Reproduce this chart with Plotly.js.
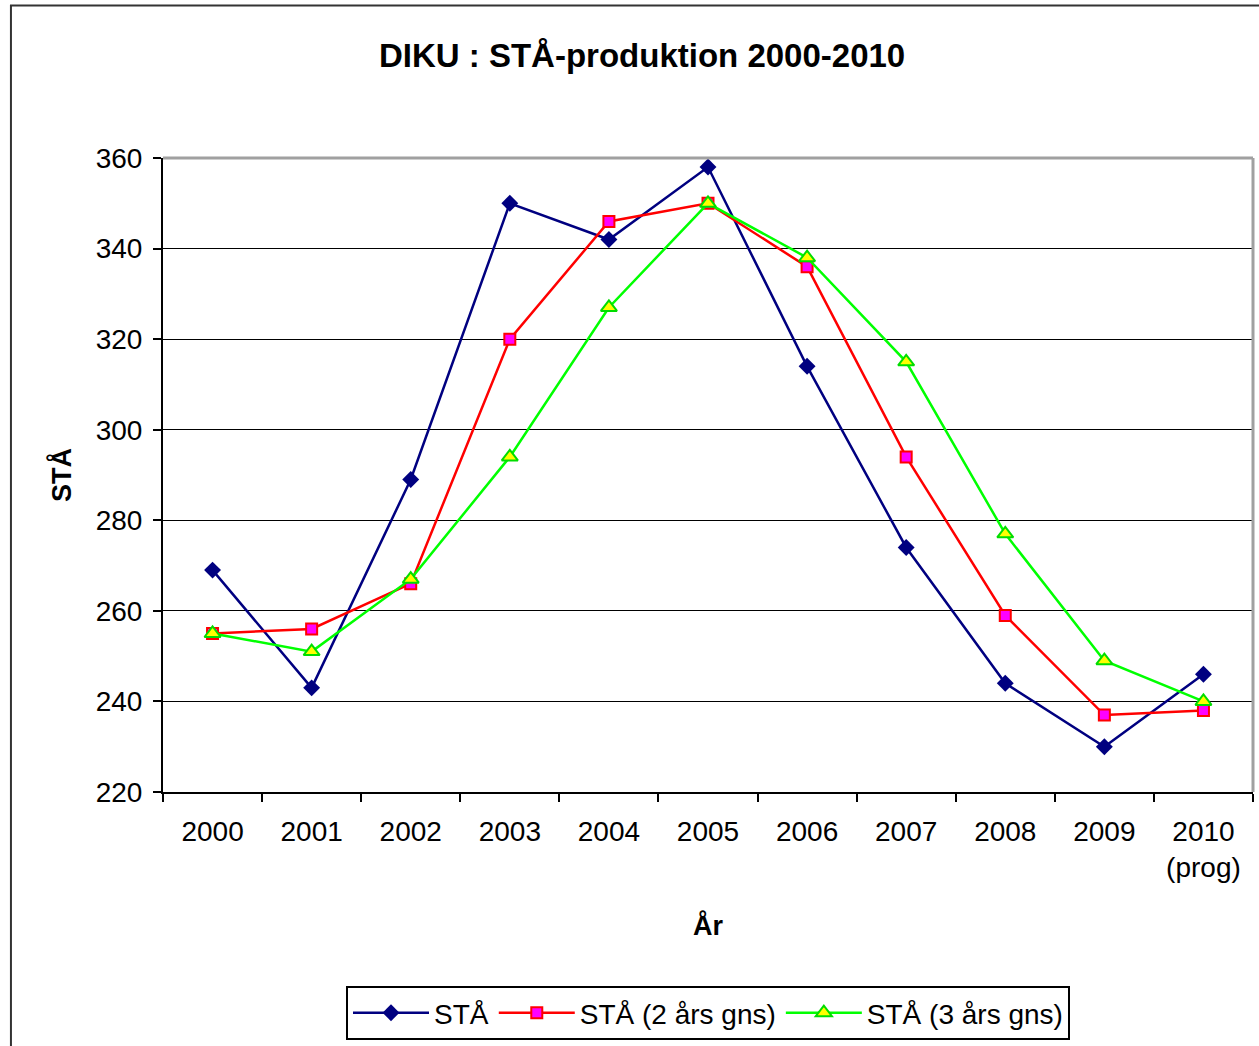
<!DOCTYPE html>
<html>
<head>
<meta charset="utf-8">
<script src="https://cdn.plot.ly/plotly-3.0.1.min.js"></script>
<style>html,body{margin:0;padding:0;background:#fff;}#chart{width:1259px;height:1046px;}</style>
</head>
<body>
<div id="chart"></div>
<script>
var years = ["2000","2001","2002","2003","2004","2005","2006","2007","2008","2009","2010<br>(prog)"];
var sta = [269, 243, 289, 350, 342, 358, 314, 274, 244, 230, 246];
var sta2 = [255, 256, 266, 320, 346, 350, 336, 294, 259, 237, 238];
var sta3 = [255, 251, 267, 294, 327, 350, 338, 315, 277, 249, 240];
var seriesNames = ["STÅ", "STÅ (2 års gns)", "STÅ (3 års gns)"];
var yTicks = [220, 240, 260, 280, 300, 320, 340, 360];

var FONT = "Liberation Sans, Arial, sans-serif";

var traces = [
  {x: years, y: sta, name: seriesNames[0], type: "scatter", mode: "lines+markers",
   line: {color: "#000080", width: 2.5},
   marker: {symbol: "diamond", size: 13, color: "#000080", line: {color: "#000080", width: 0}}},
  {x: years, y: sta2, name: seriesNames[1], type: "scatter", mode: "lines+markers",
   line: {color: "#FF0000", width: 2.5},
   marker: {symbol: "square", size: 11, color: "#FF00FF", line: {color: "#FF0000", width: 2}}},
  {x: years, y: sta3, name: seriesNames[2], type: "scatter", mode: "lines+markers",
   line: {color: "#00FF00", width: 2.5},
   marker: {symbol: "triangle-up", size: 14, color: "#FFFF00", line: {color: "#00DD00", width: 2}}}
];

var layout = {
  width: 1259, height: 1046,
  margin: {l: 163, r: 6, t: 158, b: 254},
  paper_bgcolor: "#ffffff", plot_bgcolor: "#ffffff",
  font: {family: FONT, color: "#000", size: 28},
  title: {text: "<b>DIKU : STÅ-produktion 2000-2010</b>", font: {family: FONT, size: 33, color: "#000"},
          x: 0.51, xanchor: "center", y: 0.947, yanchor: "middle"},
  xaxis: {
    type: "category", tickson: "boundaries", ticks: "outside", ticklen: 8, tickcolor: "#000", tickwidth: 2,
    showline: true, linecolor: "#000", linewidth: 2, showgrid: false,
    tickfont: {family: FONT, size: 28, color: "#000"}, ticklabelstandoff: 13,
    title: {text: "<b>År</b>", font: {family: FONT, size: 27, color: "#000"}, standoff: 34},
    range: [-0.5, 10.5], fixedrange: true
  },
  yaxis: {
    range: [220, 360], tickvals: yTicks, ticks: "outside", ticklen: 8, tickcolor: "#000", tickwidth: 2,
    showline: true, linecolor: "#000", linewidth: 2, showgrid: true, gridcolor: "#000", gridwidth: 1,
    zeroline: false,
    tickfont: {family: FONT, size: 28, color: "#000"}, ticklabelstandoff: 5,
    title: {text: "<b>STÅ</b>", font: {family: FONT, size: 27, color: "#000"}, standoff: 16},
    fixedrange: true
  },
  showlegend: true,
  legend: {orientation: "h", x: 0.5, xanchor: "center", y: -0.306, yanchor: "top",
           bordercolor: "#000", borderwidth: 2, bgcolor: "#fff",
           font: {family: FONT, size: 28, color: "#000"}, itemwidth: 76, traceorder: "normal"},
  shapes: [
    {type: "line", xref: "paper", yref: "paper", x0: 0, x1: 1, y0: 1, y1: 1, line: {color: "#A0A0A0", width: 3}, layer: "above"},
    {type: "line", xref: "paper", yref: "paper", x0: 1, x1: 1, y0: 0, y1: 1, line: {color: "#A0A0A0", width: 3}, layer: "above"},
    {type: "rect", xref: "paper", yref: "paper", x0: -0.1395, x1: 1.2, y0: -0.5, y1: 1.2405, line: {color: "#333", width: 2}, fillcolor: "rgba(0,0,0,0)", layer: "below"}
  ]
};

Plotly.newPlot("chart", traces, layout, {displayModeBar: false, staticPlot: true});
</script>
</body>
</html>
